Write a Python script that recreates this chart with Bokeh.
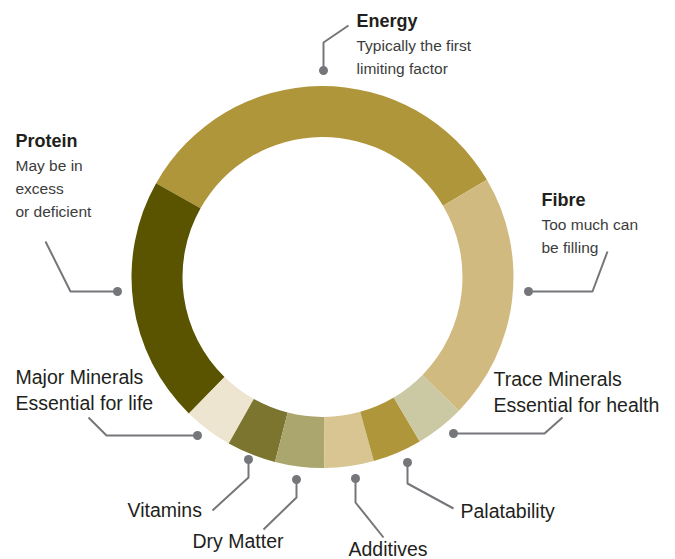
import numpy as np
from bokeh.plotting import figure
from bokeh.models import Range1d, ColumnDataSource
from bokeh.core.properties import value
from bokeh.embed import file_html
from bokeh.resources import INLINE

# ---- data ----
categories = ["Energy", "Protein", "Major Minerals", "Vitamins", "Dry Matter",
              "Additives", "Palatability", "Trace Minerals", "Fibre"]
values = [8, 5, 1, 1, 1, 1, 1, 1, 5]
colors = ["#B0963B", "#5A5400", "#EDE5D0", "#7B7530", "#ABA66E",
          "#D8C592", "#B0963B", "#CBC8A4", "#D1BA80"]

titles = ["Energy", "Protein", "Fibre"]
subtitles = [["Typically the first", "limiting factor"],
             ["May be in", "excess", "or deficient"],
             ["Too much can", "be filling"]]
plain_labels = ["Major Minerals", "Essential for life", "Trace Minerals",
                "Essential for health", "Vitamins", "Dry Matter", "Additives", "Palatability"]

# ---- layout (screen pixel coordinates of the picture) ----
W, H = 675, 559
def Y(sy):
    return H - sy

TXT_SHIFT = -7.5  # baseline correction for text placement

cx, cy = 322, Y(276.5)
r_in, r_out = 140, 191
start_deg = 30.6

vals = np.array(values, dtype=float)
ang = vals / vals.sum() * 2 * np.pi
ends = np.cumsum(ang)
starts = ends - ang
off = np.deg2rad(start_deg)

p = figure(width=W, height=H, output_backend="svg", toolbar_location=None,
           x_range=Range1d(0, W), y_range=Range1d(0, H),
           x_axis_location=None, y_axis_location=None, min_border=0)
p.grid.visible = False
p.outline_line_color = None
p.background_fill_color = "white"

src = ColumnDataSource(dict(cat=categories, start=starts + off, end=ends + off, color=colors))
p.annular_wedge(x=cx, y=cy, inner_radius=r_in, outer_radius=r_out,
                start_angle="start", end_angle="end", fill_color="color",
                line_color=None, source=src)

# leader lines (screen coords)
leaders = [
    [(323, 70), (323, 42), (348, 25)],
    [(117, 291), (70, 291), (45, 241)],
    [(528, 291), (592, 291), (607, 251)],
    [(197, 435), (106, 435), (88, 417)],
    [(453, 433), (544, 433), (562, 417)],
    [(248, 459), (248, 477), (212, 510)],
    [(296, 479), (296, 497), (263, 529)],
    [(355, 478), (355, 502), (383, 537)],
    [(407, 462), (407, 483), (453, 508)],
]
lc = "#75767A"
p.multi_line(xs=[[pt[0] for pt in l] for l in leaders],
             ys=[[Y(pt[1]) for pt in l] for l in leaders],
             line_color=lc, line_width=2)
p.scatter(x=[l[0][0] for l in leaders], y=[Y(l[0][1]) for l in leaders],
          size=9, fill_color=lc, line_color=None)

font = value("Liberation Sans")

# bold titles
title_pos = [(356, 28), (15, 148), (541, 207)]
p.text(x=[t[0] for t in title_pos], y=[Y(t[1] + TXT_SHIFT) for t in title_pos], text=titles,
       text_font=font, text_font_size="18px", text_font_style="bold",
       text_color="#231F20", text_baseline="alphabetic", text_align="left")

# subtitles
sub_start = [(356, 52), (15, 172), (541, 231)]
sx, sy, st = [], [], []
for (x0, y0), lines in zip(sub_start, subtitles):
    for i, line in enumerate(lines):
        sx.append(x0)
        sy.append(Y(y0 + i * 23.3 + TXT_SHIFT))
        st.append(line)
p.text(x=sx, y=sy, text=st, text_font=font, text_font_size="15.5px",
       text_color="#3C3C3C", text_baseline="alphabetic", text_align="left")

# plain labels
plain_pos = [(15, 384), (15, 410), (493, 386), (493, 412),
             (127, 517), (192, 548), (348, 556), (460, 518)]
p.text(x=[t[0] for t in plain_pos], y=[Y(t[1] + TXT_SHIFT) for t in plain_pos], text=plain_labels,
       text_font=font, text_font_size="19.5px",
       text_color="#231F20", text_baseline="alphabetic", text_align="left")

open("out.html", "w").write(file_html(p, INLINE))
